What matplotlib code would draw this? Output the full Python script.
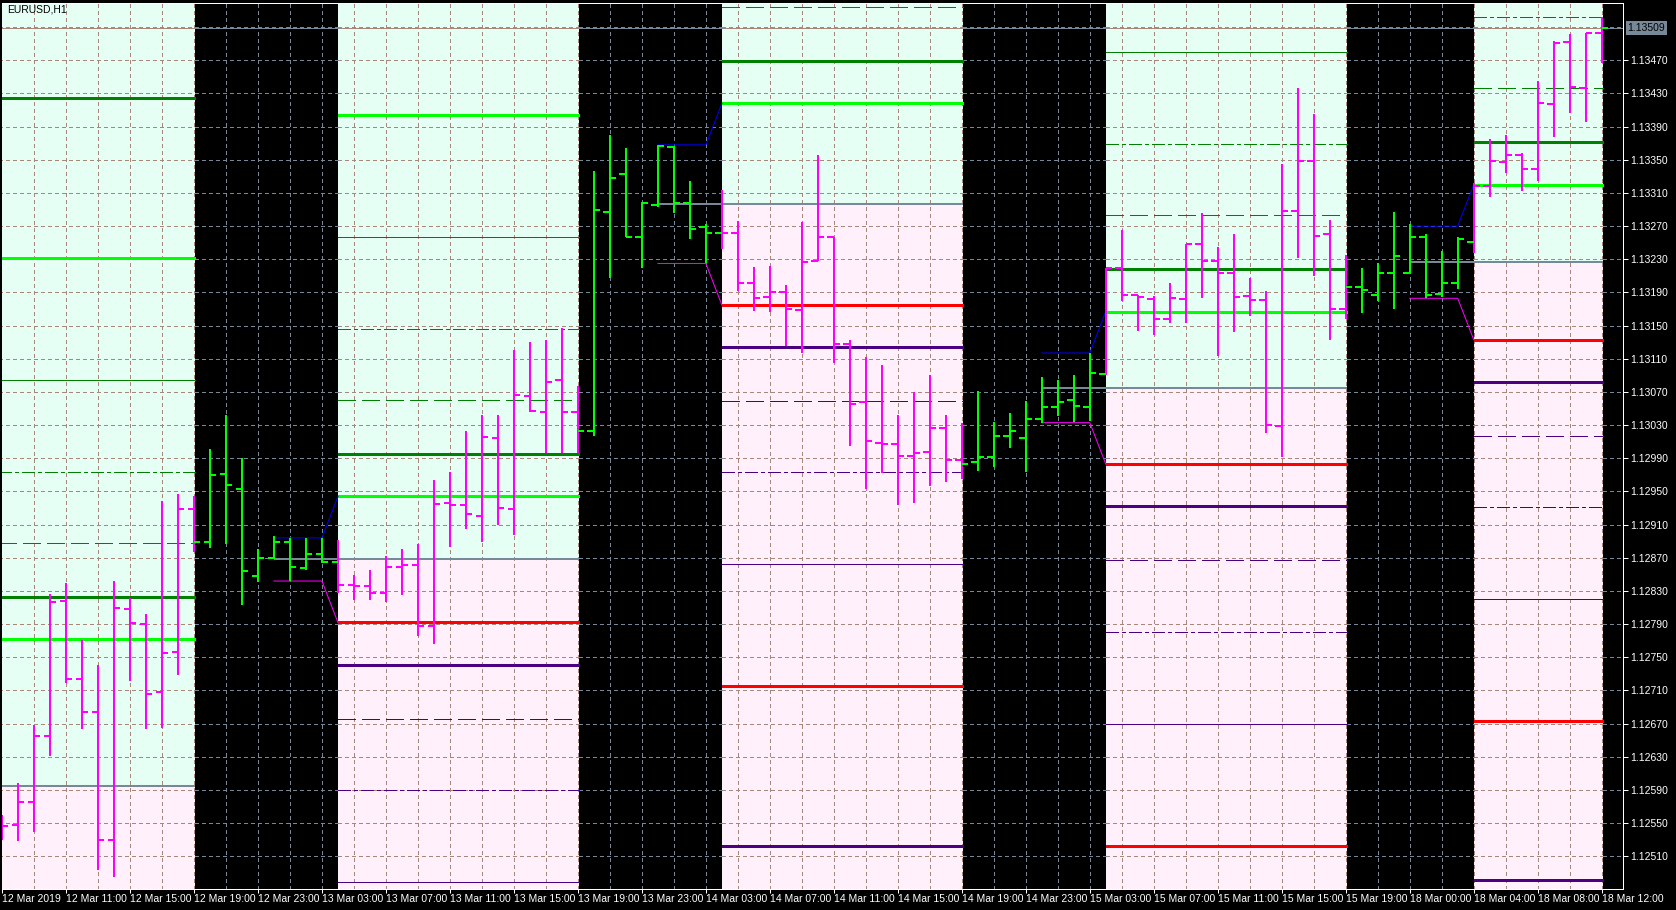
import matplotlib
matplotlib.use("Agg")
import matplotlib.pyplot as plt
from matplotlib.collections import LineCollection
from matplotlib.patches import Rectangle

plt.rcParams['font.family'] = ['Liberation Sans Narrow', 'Liberation Sans', 'DejaVu Sans']

# ---------------- data ----------------
time_labels = ["12 Mar 2019", "12 Mar 11:00", "12 Mar 15:00", "12 Mar 19:00", "12 Mar 23:00",
               "13 Mar 03:00", "13 Mar 07:00", "13 Mar 11:00", "13 Mar 15:00", "13 Mar 19:00",
               "13 Mar 23:00", "14 Mar 03:00", "14 Mar 07:00", "14 Mar 11:00", "14 Mar 15:00",
               "14 Mar 19:00", "14 Mar 23:00", "15 Mar 03:00", "15 Mar 07:00", "15 Mar 11:00",
               "15 Mar 15:00", "15 Mar 19:00", "18 Mar 00:00", "18 Mar 04:00", "18 Mar 08:00",
               "18 Mar 12:00"]
time_label_bars = [0, 4, 8, 12, 16, 20, 24, 28, 32, 36, 40, 44, 48, 52, 56, 60, 64, 68, 72,
                   76, 80, 84, 88, 92, 96, 100]

opens = [1.12542, 1.12548, 1.12576, 1.12655, 1.12818, 1.12724, 1.12684, 1.12530, 1.12808, 1.12790,
         1.12708, 1.12756, 1.12929, 1.12889, 1.12971, 1.12953, 1.12848, 1.12870, 1.12889, 1.12858,
         1.12874, 1.12865, 1.12837, 1.12836, 1.12828, 1.12859, 1.12861, 1.12788, 1.12936, 1.12934,
         1.12920, 1.13015, 1.12929, 1.13065, 1.13046, 1.13084, 1.13046, 1.13023, 1.13287, 1.13333,
         1.13257, 1.13296, 1.13366, 1.13298, 1.13269, 1.13262, 1.13262, 1.13202, 1.13185, 1.13191,
         1.13169, 1.13228, 1.13257, 1.13128, 1.13058, 1.13009, 1.13007, 1.12993, 1.12997, 1.13026,
         1.12988, 1.12985, 1.12991, 1.13017, 1.13015, 1.13037, 1.13052, 1.13060, 1.13052, 1.13092,
         1.13220, 1.13187, 1.13182, 1.13158, 1.13182, 1.13248, 1.13228, 1.13214, 1.13186, 1.13181,
         1.13029, 1.13288, 1.13348, 1.13260, 1.13170, 1.13196, 1.13187, 1.13213, 1.13214, 1.13257,
         1.13188, 1.13201, 1.13251, 1.13318, 1.13347, 1.13356, 1.13339, 1.13417, 1.13492, 1.13437,
         1.13503]
highs = [1.12560, 1.12598, 1.12668, 1.12826, 1.12840, 1.12771, 1.12741, 1.12842, 1.12822, 1.12802,
         1.12938, 1.12947, 1.12944, 1.13001, 1.13042, 1.12990, 1.12881, 1.12896, 1.12894, 1.12894,
         1.12894, 1.12891, 1.12849, 1.12855, 1.12872, 1.12881, 1.12887, 1.12964, 1.12974, 1.13023,
         1.13042, 1.13042, 1.13121, 1.13130, 1.13133, 1.13147, 1.13077, 1.13337, 1.13380, 1.13364,
         1.13299, 1.13368, 1.13367, 1.13324, 1.13273, 1.13314, 1.13276, 1.13221, 1.13222, 1.13199,
         1.13275, 1.13356, 1.13257, 1.13133, 1.13112, 1.13102, 1.13042, 1.13070, 1.13090, 1.13042,
         1.13033, 1.13071, 1.13034, 1.13045, 1.13059, 1.13088, 1.13084, 1.13090, 1.13117, 1.13220,
         1.13265, 1.13187, 1.13186, 1.13201, 1.13248, 1.13286, 1.13245, 1.13261, 1.13208, 1.13192,
         1.13345, 1.13436, 1.13405, 1.13278, 1.13235, 1.13219, 1.13225, 1.13287, 1.13272, 1.13261,
         1.13240, 1.13257, 1.13322, 1.13375, 1.13380, 1.13358, 1.13445, 1.13493, 1.13502, 1.13503,
         1.13522]
lows = [1.12530, 1.12529, 1.12539, 1.12631, 1.12719, 1.12664, 1.12494, 1.12485, 1.12721, 1.12664,
        1.12665, 1.12729, 1.12877, 1.12882, 1.12887, 1.12813, 1.12841, 1.12869, 1.12842, 1.12855,
        1.12864, 1.12827, 1.12819, 1.12819, 1.12817, 1.12825, 1.12776, 1.12766, 1.12883, 1.12905,
        1.12889, 1.12909, 1.12898, 1.13046, 1.12996, 1.12996, 1.12996, 1.13017, 1.13208, 1.13257,
        1.13219, 1.13293, 1.13286, 1.13255, 1.13225, 1.13243, 1.13192, 1.13168, 1.13166, 1.13125,
        1.13117, 1.13228, 1.13105, 1.13005, 1.12953, 1.12972, 1.12934, 1.12936, 1.12956, 1.12961,
        1.12965, 1.12975, 1.12979, 1.13003, 1.12973, 1.13033, 1.13041, 1.13034, 1.13035, 1.13091,
        1.13180, 1.13144, 1.13139, 1.13153, 1.13153, 1.13183, 1.13113, 1.13142, 1.13162, 1.13021,
        1.12991, 1.13232, 1.13210, 1.13133, 1.13158, 1.13165, 1.13180, 1.13170, 1.13214, 1.13183,
        1.13184, 1.13194, 1.13238, 1.13305, 1.13334, 1.13312, 1.13325, 1.13378, 1.13406, 1.13396,
        1.13467]
closes = [1.12547, 1.12576, 1.12655, 1.12817, 1.12724, 1.12684, 1.12530, 1.12809, 1.12791, 1.12706,
          1.12755, 1.12929, 1.12889, 1.12970, 1.12958, 1.12854, 1.12870, 1.12889, 1.12859, 1.12874,
          1.12865, 1.12837, 1.12836, 1.12828, 1.12859, 1.12861, 1.12788, 1.12935, 1.12934, 1.12923,
          1.13016, 1.12930, 1.13066, 1.13047, 1.13082, 1.13046, 1.13023, 1.13289, 1.13328, 1.13257,
          1.13298, 1.13367, 1.13298, 1.13267, 1.13262, 1.13262, 1.13202, 1.13183, 1.13191, 1.13170,
          1.13227, 1.13257, 1.13128, 1.13055, 1.13011, 1.13007, 1.12993, 1.12996, 1.13026, 1.12988,
          1.12983, 1.12992, 1.13017, 1.13023, 1.13037, 1.13052, 1.13058, 1.13053, 1.13093, 1.13220,
          1.13187, 1.13185, 1.13158, 1.13183, 1.13248, 1.13228, 1.13214, 1.13185, 1.13181, 1.13030,
          1.13288, 1.13349, 1.13258, 1.13170, 1.13197, 1.13193, 1.13213, 1.13234, 1.13257, 1.13187,
          1.13201, 1.13254, 1.13318, 1.13348, 1.13356, 1.13339, 1.13419, 1.13491, 1.13438, 1.13503,
          1.13509]

# trading-session zones (bar indices) and Asian-range boxes
region_start = [-1, 21, 45, 69, 92]
region_end = [12, 36, 60, 84, 100]
box_start = [None, 17, 41, 65, 88]
box_end = [None, 20, 44, 68, 91]
box_high = [1.12722, 1.12894, 1.13368, 1.13117, 1.13270]
box_low = [1.12468, 1.12842, 1.13225, 1.13033, 1.13183]
level_offsets = [0.00050, 0.00101, 0.00166, 0.00252, 0.00363, 0.00510, 0.00702]

price_tick_values = [1.12510, 1.12550, 1.12590, 1.12630, 1.12670, 1.12710, 1.12750, 1.12790,
                     1.12830, 1.12870, 1.12910, 1.12950, 1.12990, 1.13030, 1.13070, 1.13110,
                     1.13150, 1.13190, 1.13230, 1.13270, 1.13310, 1.13350, 1.13390, 1.13430,
                     1.13470]
price_tick_labels = ["1.12510", "1.12550", "1.12590", "1.12630", "1.12670", "1.12710", "1.12750",
                     "1.12790", "1.12830", "1.12870", "1.12910", "1.12950", "1.12990", "1.13030",
                     "1.13070", "1.13110", "1.13150", "1.13190", "1.13230", "1.13270", "1.13310",
                     "1.13350", "1.13390", "1.13430", "1.13470"]
grid_extra = [1.13510]
bid_price = 1.13509
symbol_label = "EURUSD,H1"

# ---------------- styling ----------------
W, H = 1676, 910
PX = 0.72  # one pixel in points at dpi 100
MINT = '#E6FFF5'
PINK = '#FFF0FB'
GRID_LIGHT = '#A8867A'
GRID_DARK = '#778899'
BULL_MAG = '#FF00FF'
SESSION_GREEN = '#00FF00'
GRID_DASH = (4, 3)

fig = plt.figure(figsize=(W / 100, H / 100), dpi=100, facecolor='black')
ax_left, ax_right, ax_top, ax_bottom = 2, 1623, 3, 889
ax = fig.add_axes([ax_left / W, (H - ax_bottom) / H, (ax_right - ax_left) / W, (ax_bottom - ax_top) / H])
ax.set_facecolor('black')

bar_px = 16.0
first_bar_px = 1.7
xmin = (ax_left - first_bar_px) / bar_px
xmax = (ax_right - first_bar_px) / bar_px
ref_price, ref_y, px_per_price = 1.13470, 60.3, 82917.0
ymax = ref_price + (ref_y - ax_top) / px_per_price
ymin = ref_price - (ax_bottom - ref_y) / px_per_price
ax.set_xlim(xmin, xmax)
ax.set_ylim(ymin, ymax)

# light / dark x-intervals
edge = 0.06
light_iv = []
for s, e in zip(region_start, region_end):
    light_iv.append((max(s, xmin - 1), e + edge))
dark_iv = []
for i in range(len(light_iv)):
    a = light_iv[i][1]
    b = light_iv[i + 1][0] if i + 1 < len(light_iv) else xmax + 1
    dark_iv.append((a, b))

# backgrounds
for r, (s, e) in enumerate(light_iv):
    mid = (box_high[r] + box_low[r]) / 2
    ax.add_patch(Rectangle((s, mid), e - s, ymax + 1 - mid, facecolor=MINT, edgecolor='none', zorder=0.5))
    ax.add_patch(Rectangle((s, ymin - 1), e - s, mid - ymin + 1, facecolor=PINK, edgecolor='none', zorder=0.5))

# grid
for p in price_tick_values + grid_extra:
    for (a, b) in light_iv:
        ax.plot([a, b], [p, p], color=GRID_LIGHT, lw=PX, dashes=GRID_DASH, zorder=1, antialiased=False)
    for (a, b) in dark_iv:
        ax.plot([a, b], [p, p], color=GRID_DARK, lw=PX, dashes=GRID_DASH, zorder=1, antialiased=False)
for k in range(2, 102, 2):
    inside = any(a <= k <= b for a, b in light_iv)
    ax.plot([k, k], [ymin, ymax], color=GRID_LIGHT if inside else GRID_DARK, lw=PX,
            dashes=GRID_DASH, zorder=1, antialiased=False)

# bid line
for (a, b) in light_iv:
    ax.plot([a, b], [bid_price, bid_price], color=GRID_LIGHT, lw=PX, zorder=1.2, antialiased=False)
for (a, b) in dark_iv:
    ax.plot([a, b], [bid_price, bid_price], color=GRID_DARK, lw=PX, zorder=1.2, antialiased=False)

# levels
up_colors = ['#00FF00', '#008000', '#008000', '#008000', '#008000', '#00FF00', '#008000']
dn_colors = ['#FF0000', '#4B0082', '#4B0082', '#4B0082', '#4B0082', '#FF0000', '#4B0082']
lvl_lw = [3 * PX, 3 * PX, PX, PX, PX, 3 * PX, 3 * PX]
lvl_dash = [None, None, (18, 6), (12, 4, 3, 4), None, None, None]
for r in range(len(region_start)):
    s = light_iv[r][0]
    e = region_end[r] + edge
    mid = (box_high[r] + box_low[r]) / 2
    gs = s if box_start[r] is None else box_start[r]
    ax.plot([gs, e], [mid, mid], color='#778899', lw=2 * PX, zorder=2, solid_capstyle='butt',
            antialiased=False)
    for i, off in enumerate(level_offsets):
        for val, col in ((box_high[r] + off, up_colors[i]), (box_low[r] - off, dn_colors[i])):
            kw = dict(color=col, lw=lvl_lw[i], zorder=2, solid_capstyle='butt', antialiased=False)
            if lvl_dash[i] is not None:
                kw['dashes'] = lvl_dash[i]
            ax.plot([s, e], [val, val], **kw)
    if box_start[r] is not None:
        ax.plot([box_start[r], box_end[r], region_start[r]],
                [box_high[r], box_high[r], box_high[r] + level_offsets[0]],
                color='#0000FF', lw=PX, zorder=2.5)
        ax.plot([box_start[r], box_end[r], region_start[r]],
                [box_low[r], box_low[r], box_low[r] - level_offsets[0]],
                color='#FF00FF', lw=PX, zorder=2.5)

# bars
tick_len = 0.4
vsegs, vcols, tsegs, tcols = [], [], [], []
for k in range(len(opens)):
    in_light = any(s <= k <= e for s, e in zip(region_start, region_end))
    base = BULL_MAG if in_light else SESSION_GREEN
    vsegs.append([(k, lows[k]), (k, highs[k])])
    vcols.append(base)
    tsegs.append([(k - tick_len, opens[k]), (k, opens[k])])
    tcols.append(SESSION_GREEN if (k in region_start or not in_light) else base)
    tsegs.append([(k, closes[k]), (k + tick_len, closes[k])])
    tcols.append(SESSION_GREEN if (k in region_end or not in_light) else base)
ax.add_collection(LineCollection(vsegs, colors=vcols, linewidths=2 * PX, zorder=3,
                                 capstyle='butt', antialiaseds=False))
ax.add_collection(LineCollection(tsegs, colors=tcols, linewidths=2 * PX, zorder=3,
                                 capstyle='butt', antialiaseds=False))

# axes cosmetics
for side in ['top', 'right', 'bottom']:
    ax.spines[side].set_color('white')
    ax.spines[side].set_linewidth(PX)
ax.spines['left'].set_visible(False)
ax.yaxis.tick_right()
ax.set_yticks(price_tick_values)
ax.set_yticklabels(price_tick_labels)
ax.set_xticks(time_label_bars)
ax.set_xticklabels(time_labels, ha='left')
ax.tick_params(axis='y', colors='white', length=5 * PX, width=PX, pad=1.5, labelsize=7.5)
ax.tick_params(axis='x', colors='white', length=4 * PX, width=PX, pad=1.0, labelsize=7.5)

ax.annotate(f"{bid_price:.5f}", xy=(1, bid_price), xycoords=('axes fraction', 'data'),
            xytext=(4.6 * PX, 0), textcoords='offset points', ha='left', va='center',
            fontsize=7.5, color='black', annotation_clip=False,
            bbox=dict(boxstyle='square,pad=0.15', fc='#778899', ec='none'), zorder=10)

fig.text(7 / W, 1 - 10 / H, symbol_label, color='black', fontsize=7.5, ha='left', va='center')

fig.savefig('out.png', dpi=100, facecolor='black')
